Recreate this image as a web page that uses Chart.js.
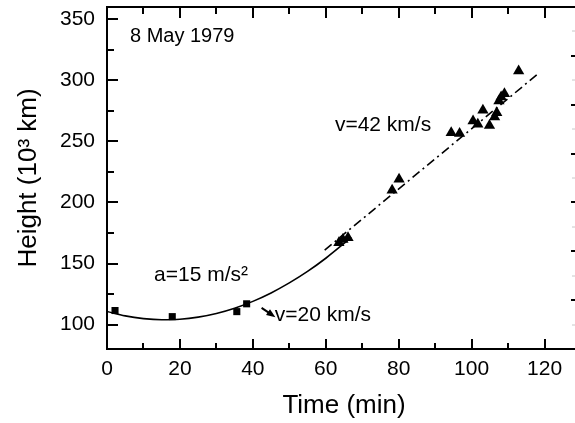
<!DOCTYPE html>
<html lang="en">
<head>
<meta charset="utf-8">
<title>8 May 1979</title>
<script src="https://cdn.jsdelivr.net/npm/chart.js@4.4.1/dist/chart.umd.min.js"></script>
<style>
  html, body { margin: 0; padding: 0; overflow: hidden; background: #fff; }
  canvas { display: block; }
</style>
</head>
<body>
<canvas id="grafico" width="590" height="423"></canvas>
<script>
// pontos medidos (tempo em min, altura em 10^3 km)
const tempoQuadrados = [2.2, 17.9, 35.6, 38.3];
const alturaQuadrados = [111.5, 106.5, 110.6, 117.0];

const tempoTriangulos = [63.6, 64.7, 66.1, 78.2, 80.1, 94.4, 96.7, 100.4, 101.7, 103.1, 104.9, 106.3, 106.9, 107.5, 108.1, 109.0, 112.9];
const alturaTriangulos = [167.0, 169.7, 171.0, 210.0, 219.0, 257.0, 256.5, 266.6, 264.0, 275.4, 263.0, 270.0, 273.5, 283.0, 286.3, 289.0, 307.6];

// curva de aceleração e reta de velocidade constante
const tempoAjuste = [0, 5, 10, 15, 20, 25, 30, 35, 40, 45, 50, 55, 60, 65, 67];
const alturaAjuste = [110.7, 107.1, 104.9, 104.0, 104.4, 106.1, 109.1, 113.4, 119.0, 125.9, 134.1, 143.5, 154.3, 166.4, 171.5];

const tempoReta = [59.7, 118.5];
const alturaReta = [161, 306];

// marcas dos eixos
const ticksTempo = [0, 20, 40, 60, 80, 100, 120];
const ticksTempoMenores = [10, 30, 50, 70, 90, 110];
const ticksAltura = [100, 150, 200, 250, 300, 350];
const ticksAlturaMenores = [125, 175, 225, 275, 325];
const ticksDireita = [1, 2, 3, 4, 5, 6];
const ticksDireitaMenores = [0.5, 1.5, 2.5, 3.5, 4.5, 5.5, 6.5];

const anotacoes = [
  { texto: "8 May 1979", t: 6.3, h: 331.5, tamanho: 20 },
  { texto: "v=42 km/s", t: 62.5, h: 258.4, tamanho: 21 },
  { texto: "a=15 m/s²", t: 12.9, h: 135.5, tamanho: 21 },
  { texto: "v=20 km/s", t: 46.0, h: 102.7, tamanho: 21 }
];
const seta = { de: [42.4, 113.7], para: [46.2, 106.0] };

const FONTE = "'Liberation Sans', Arial, sans-serif";

document.addEventListener("DOMContentLoaded", function () {
  const canvas = document.getElementById("grafico");
  if (!canvas || typeof Chart === "undefined") return;

  Chart.defaults.font.family = FONTE;
  Chart.defaults.color = "#000";

  function pares(xs, ys) {
    return xs.map((x, i) => ({ x: x, y: ys[i] }));
  }

  function fixarTicks(lista) {
    return function (escala) {
      escala.ticks = lista.map(v => ({ value: v }));
    };
  }

  // tamanho fixo dos eixos, sem a folga automática dos rótulos
  function fixarTamanho(prop, valor) {
    return function (escala) {
      escala[prop] = valor;
      escala.paddingTop = 0;
      escala.paddingBottom = 0;
      escala.paddingLeft = 0;
      escala.paddingRight = 0;
    };
  }

  // moldura, marcas internas e textos
  const molduraPlugin = {
    id: "moldura",
    afterDraw(chart) {
      const { ctx, chartArea: area, scales } = chart;
      const sx = scales.x;
      const sy = scales.y;
      const sy2 = scales.y2;

      ctx.save();
      ctx.strokeStyle = "#000";
      ctx.lineWidth = 2;
      ctx.lineCap = "butt";

      function linha(x1, y1, x2, y2) {
        ctx.beginPath();
        ctx.moveTo(x1, y1);
        ctx.lineTo(x2, y2);
        ctx.stroke();
      }

      ctx.strokeRect(area.left, area.top, area.right - area.left, area.bottom - area.top);

      ticksTempo.forEach(v => {
        const px = Math.round(sx.getPixelForValue(v));
        linha(px, area.bottom, px, area.bottom - 10);
        linha(px, area.top, px, area.top + 11);
      });
      ticksTempoMenores.forEach(v => {
        const px = Math.round(sx.getPixelForValue(v));
        linha(px, area.bottom, px, area.bottom - 6);
        linha(px, area.top, px, area.top + 7);
      });
      ticksAltura.forEach(v => {
        const py = Math.round(sy.getPixelForValue(v));
        linha(area.left, py, area.left + 11, py);
      });
      ticksAlturaMenores.forEach(v => {
        const py = Math.round(sy.getPixelForValue(v));
        linha(area.left, py, area.left + 7, py);
      });
      ticksDireita.forEach(v => {
        const py = Math.round(sy2.getPixelForValue(v));
        linha(area.right, py, area.right - 10, py);
      });
      ctx.strokeStyle = "#c8c8c8";
      ctx.lineWidth = 1;
      ticksDireitaMenores.forEach(v => {
        const py = Math.round(sy2.getPixelForValue(v));
        linha(area.right - 9, py, area.right - 6, py);
      });

      // seta apontando para o rótulo v=20 km/s
      const x1 = sx.getPixelForValue(seta.de[0]);
      const y1 = sy.getPixelForValue(seta.de[1]);
      const x2 = sx.getPixelForValue(seta.para[0]);
      const y2 = sy.getPixelForValue(seta.para[1]);
      const ang = Math.atan2(y2 - y1, x2 - x1);
      ctx.strokeStyle = "#000";
      ctx.lineWidth = 2;
      linha(x1, y1, x2 - 5 * Math.cos(ang), y2 - 5 * Math.sin(ang));
      ctx.fillStyle = "#000";
      ctx.beginPath();
      ctx.moveTo(x2, y2);
      ctx.lineTo(x2 - 9 * Math.cos(ang) + 3.5 * Math.sin(ang), y2 - 9 * Math.sin(ang) - 3.5 * Math.cos(ang));
      ctx.lineTo(x2 - 9 * Math.cos(ang) - 3.5 * Math.sin(ang), y2 - 9 * Math.sin(ang) + 3.5 * Math.cos(ang));
      ctx.closePath();
      ctx.fill();

      ctx.textAlign = "left";
      ctx.textBaseline = "alphabetic";
      anotacoes.forEach(a => {
        ctx.font = `${a.tamanho}px ${FONTE}`;
        ctx.fillText(a.texto, sx.getPixelForValue(a.t), sy.getPixelForValue(a.h));
      });

      ctx.restore();
    }
  };

  new Chart(canvas, {
    type: "scatter",
    data: {
      datasets: [
        {
          label: "quadrados",
          data: pares(tempoQuadrados, alturaQuadrados),
          pointStyle: "rect",
          pointRadius: 5,
          backgroundColor: "#000",
          borderColor: "#000",
          borderWidth: 0
        },
        {
          label: "triangulos",
          data: pares(tempoTriangulos, alturaTriangulos),
          pointStyle: "triangle",
          pointRadius: 6.5,
          backgroundColor: "#000",
          borderColor: "#000",
          borderWidth: 0
        },
        {
          label: "ajuste",
          data: pares(tempoAjuste, alturaAjuste),
          showLine: true,
          cubicInterpolationMode: "monotone",
          borderColor: "#000",
          borderWidth: 1.6,
          pointRadius: 0
        },
        {
          label: "reta",
          data: pares(tempoReta, alturaReta),
          showLine: true,
          borderColor: "#000",
          borderWidth: 1.6,
          borderDash: [9, 4, 2, 4],
          pointRadius: 0
        }
      ]
    },
    options: {
      responsive: false,
      animation: false,
      events: [],
      layout: { padding: { top: 7, right: 9, left: 0, bottom: 0 } },
      plugins: {
        legend: { display: false },
        tooltip: { enabled: false }
      },
      scales: {
        x: {
          type: "linear",
          min: 0,
          max: 130,
          bounds: "data",
          afterBuildTicks: fixarTicks(ticksTempo),
          afterFit: fixarTamanho("height", 74),
          grid: { display: false, drawTicks: false },
          border: { display: false },
          ticks: { color: "#000", font: { size: 21 }, padding: 8, maxRotation: 0, autoSkip: false },
          title: {
            display: true,
            text: "Time (min)",
            color: "#000",
            font: { size: 26 },
            padding: { top: 0, bottom: 2 }
          }
        },
        y: {
          type: "linear",
          min: 80,
          max: 360,
          bounds: "data",
          afterBuildTicks: fixarTicks(ticksAltura),
          afterFit: fixarTamanho("width", 107),
          grid: { display: false, drawTicks: false },
          border: { display: false },
          ticks: { color: "#000", font: { size: 21 }, padding: 12, autoSkip: false },
          title: {
            display: true,
            text: "Height (10³ km)",
            color: "#000",
            font: { size: 26 },
            padding: { top: 13, bottom: 0 }
          }
        },
        y2: {
          type: "linear",
          position: "right",
          min: 0,
          max: 7,
          bounds: "data",
          display: false
        }
      }
    },
    plugins: [molduraPlugin]
  });
});
</script>
</body>
</html>
